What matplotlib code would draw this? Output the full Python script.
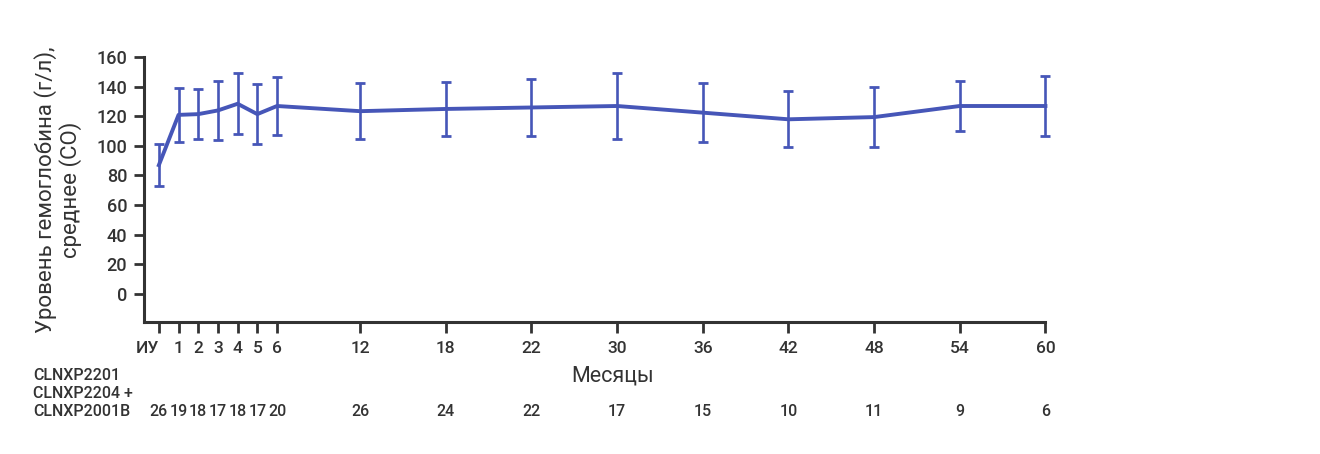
#!/usr/bin/env python3

import numpy as np
import matplotlib
matplotlib.use('Agg')
import matplotlib.pyplot as plt
import matplotlib.transforms as mtransforms

plt.rcParams['font.family'] = ['Roboto', 'DejaVu Sans']
plt.rcParams['font.weight'] = 'medium'

# visit labels (months), mean Hb and SD, patient counts
labels = ['ИУ', '1', '2', '3', '4', '5', '6', '12', '18', '22', '30', '36', '42', '48', '54', '60']
means = [87, 121, 121.5, 124, 128.5, 121.5, 127, 123.5, 125, 126, 127, 122.5, 118, 119.5, 127, 127]
sd = [14, 18.5, 17, 20, 20.5, 20.5, 19.5, 19, 18.5, 19.5, 22, 20, 19, 20.5, 17, 20.5]
counts = [26, 19, 18, 17, 18, 17, 20, 26, 24, 22, 17, 15, 10, 11, 9, 6]
yticks = [0, 20, 40, 60, 80, 100, 120, 140, 160]

# first 7 visits monthly, afterwards wider equal steps
xpos = np.array(list(range(7)) + [6 + 4.22 + 4.35 * k for k in range(9)])

col = '#4656b8'
dark = '#333333'

fig = plt.figure(figsize=(13.2, 4.54), dpi=100)
ax = fig.add_axes([0.109, 0.291, 0.683, 0.583])

ax.plot(xpos, means, color=col, lw=2.8, zorder=3, clip_on=False)
eb = ax.errorbar(xpos, means, yerr=sd, fmt='none', ecolor=col, elinewidth=1.9,
                 capsize=3.6, capthick=2, zorder=3)
for art in eb.lines[1] + eb.lines[2]:
    art.set_clip_on(False)

ax.set_xlim(-0.76, xpos[-1])
ax.set_ylim(-19, 160)
ax.set_yticks(yticks)
ax.set_xticks(xpos)
ax.set_xticklabels(labels)
ax.get_xticklabels()[0].set_horizontalalignment('right')

for s in ['top', 'right']:
    ax.spines[s].set_visible(False)
for s in ['left', 'bottom']:
    ax.spines[s].set_linewidth(2.2)
    ax.spines[s].set_color(dark)

ax.tick_params(axis='x', length=8, width=2, color=dark, labelsize=12.5, labelcolor=dark, pad=6)
ax.tick_params(axis='y', length=7, width=2, color=dark, labelsize=13, labelcolor=dark, pad=5)

ax.set_ylabel('Уровень гемоглобина (г/л),\nсреднее (СО)', fontsize=16, color=dark,
              linespacing=1.1)
ax.yaxis.set_label_coords(-0.069, 0.5)
ax.set_xlabel('Месяцы', fontsize=15.5, color=dark)
ax.xaxis.set_label_coords(0.52, -0.165)

# patient numbers row
trans = mtransforms.blended_transform_factory(ax.transData, fig.transFigure)
for x, n in zip(xpos, counts):
    ax.text(x, 1 - 411 / 454, str(n), transform=trans, ha='center', va='center',
            fontsize=11.5, color=dark)

for i, t in enumerate(['CLNXP2201', 'CLNXP2204 +', 'CLNXP2001B']):
    fig.text(33 / 1320, 1 - (375 + 18 * i) / 454, t, ha='left', va='center',
             fontsize=11.5, color=dark)

fig.savefig('out.png', dpi=100)
